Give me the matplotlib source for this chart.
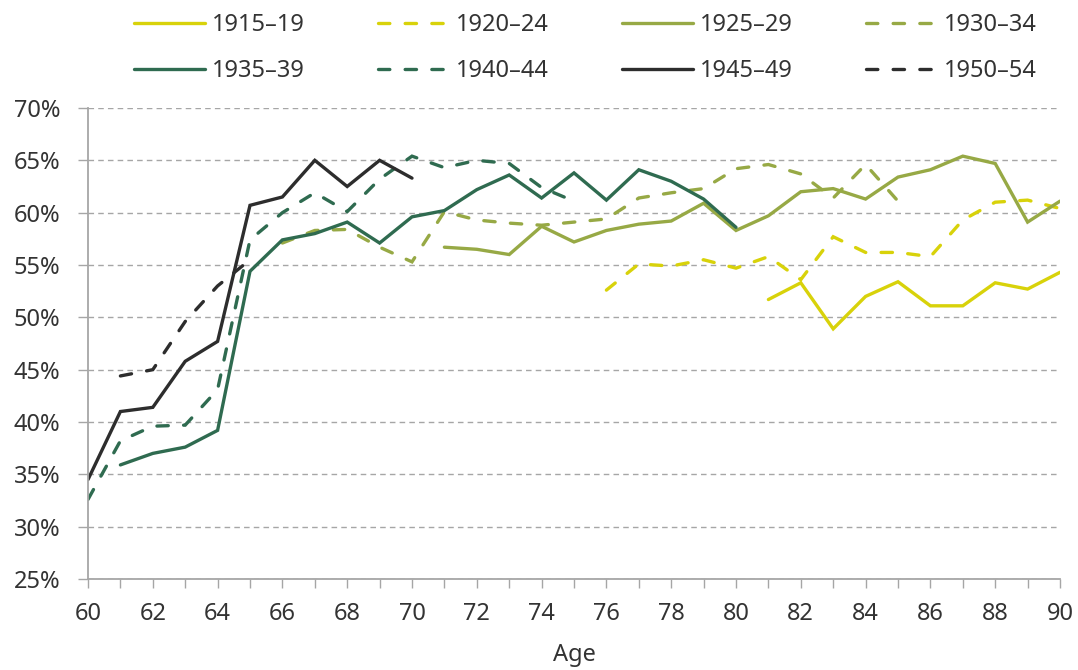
import matplotlib.pyplot as plt
import numpy as np

plt.rcParams['font.family'] = ['Noto Sans', 'DejaVu Sans']

# Share of each birth cohort, by age (percent)
ages_1915 = list(range(81, 91))
vals_1915 = [51.7, 53.3, 48.9, 52.0, 53.4, 51.1, 51.1, 53.3, 52.7, 54.3]

ages_1920 = list(range(76, 91))
vals_1920 = [52.6, 55.1, 54.9, 55.5, 54.7, 55.8, 53.6, 57.7, 56.2, 56.2,
             55.8, 59.3, 61.0, 61.2, 60.4]

ages_1925 = list(range(71, 91))
vals_1925 = [56.7, 56.5, 56.0, 58.7, 57.2, 58.3, 58.9, 59.2, 60.9, 58.3,
             59.7, 62.0, 62.3, 61.3, 63.4, 64.1, 65.4, 64.7, 59.1, 61.1]

ages_1930 = list(range(66, 86))
vals_1930 = [57.1, 58.3, 58.4, 56.7, 55.3, 60.1, 59.3, 59.0, 58.8, 59.1,
             59.4, 61.4, 61.9, 62.3, 64.2, 64.6, 63.7, 61.4, 64.6, 61.1]

ages_1935 = list(range(61, 81))
vals_1935 = [35.9, 37.0, 37.6, 39.2, 54.4, 57.4, 58.0, 59.1, 57.1, 59.6,
             60.2, 62.2, 63.6, 61.4, 63.8, 61.2, 64.1, 63.0, 61.3, 58.6]

ages_1940 = list(range(60, 76))
vals_1940 = [32.6, 38.2, 39.6, 39.7, 43.1, 57.4, 60.0, 61.9, 60.1, 63.2,
             65.4, 64.3, 65.0, 64.7, 62.4, 61.1]

ages_1945 = list(range(60, 71))
vals_1945 = [34.5, 41.0, 41.4, 45.8, 47.7, 60.7, 61.5, 65.0, 62.5, 65.0, 63.3]

ages_1950 = list(range(61, 66))
vals_1950 = [44.4, 45.0, 49.6, 53.0, 55.5]

cohorts = ['1915–19', '1920–24', '1925–29', '1930–34',
           '1935–39', '1940–44', '1945–49', '1950–54']
all_ages = [ages_1915, ages_1920, ages_1925, ages_1930,
            ages_1935, ages_1940, ages_1945, ages_1950]
all_vals = [vals_1915, vals_1920, vals_1925, vals_1930,
            vals_1935, vals_1940, vals_1945, vals_1950]

yellow = '#d8d20a'
olive = '#97a945'
green = '#2f6b50'
dark = '#2d2d2d'
colors = [yellow, yellow, olive, olive, green, green, dark, dark]
solid = [True, False] * 4

fig = plt.figure(figsize=(10.78, 6.70), dpi=100)
ax = fig.add_axes([88 / 1078, 1 - 579 / 670, 972 / 1078, 471 / 670])

for name, x, y, c, s in zip(cohorts, all_ages, all_vals, colors, solid):
    if s:
        ax.plot(x, y, color=c, lw=2.4, label=name, solid_capstyle='round',
                solid_joinstyle='miter')
    else:
        ax.plot(x, y, color=c, lw=2.4, label=name, dashes=(3.4, 4.6),
                dash_capstyle='round', dash_joinstyle='miter')

ax.set_xlim(60, 90)
ax.set_ylim(25, 70)
ax.set_xticks(np.arange(60, 91, 2))
ax.set_xticks(np.arange(60, 91, 1), minor=True)
ax.set_yticks(np.arange(25, 71, 5))
ax.set_yticklabels([f'{v}%' for v in range(25, 71, 5)])

ax.grid(True, axis='y', color='#a6a6a6', lw=1.0, dashes=(4, 3))
ax.set_axisbelow(True)

for side in ['top', 'right']:
    ax.spines[side].set_visible(False)
for side in ['left', 'bottom']:
    ax.spines[side].set_color('#a6a6a6')
    ax.spines[side].set_linewidth(1.3)

ax.tick_params(axis='y', which='major', direction='out', length=7, width=1.0,
               color='#a6a6a6', labelsize=17, labelcolor='#333333', pad=13)
ax.tick_params(axis='x', which='both', direction='out', length=6.5, width=1.0,
               color='#a6a6a6', labelsize=17, labelcolor='#333333', pad=10)

ax.set_xlabel('Age', fontsize=17, color='#333333', labelpad=12)

# legend reads across rows: reorder for matplotlib's column-first fill
handles, labels = ax.get_legend_handles_labels()
order = [0, 4, 1, 5, 2, 6, 3, 7]
fig.legend([handles[i] for i in order], [labels[i] for i in order],
           loc='center', bbox_to_anchor=(0.543, 0.928), ncol=4, frameon=False,
           fontsize=17, handlelength=3.0, handletextpad=0.3,
           columnspacing=3.1, labelspacing=0.95, labelcolor='#333333')

fig.savefig('out.png', dpi=100)
